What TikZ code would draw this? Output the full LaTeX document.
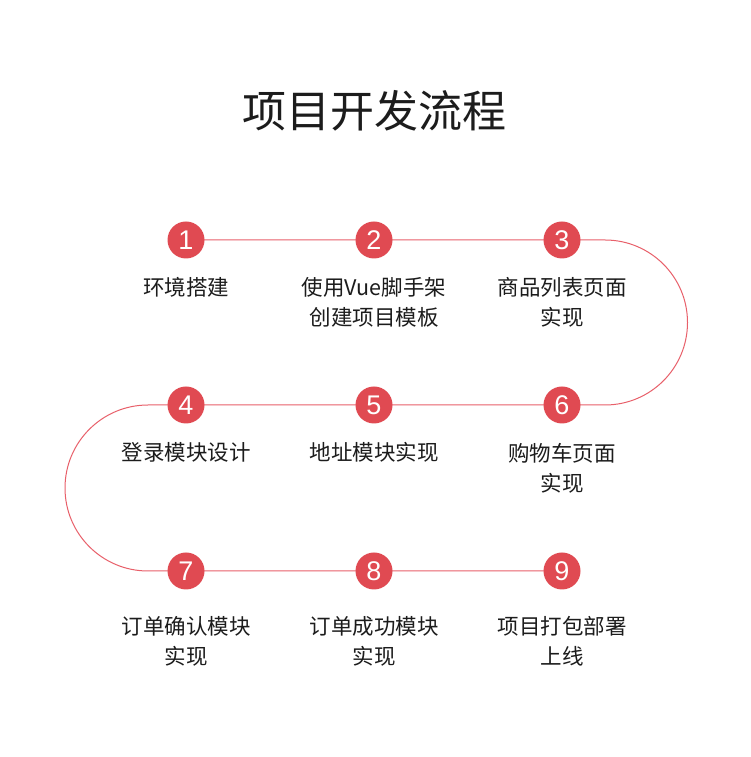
\documentclass[tikz,border=0pt]{standalone}
\usepackage{fontspec}
\setmainfont{Noto Sans CJK SC}
\newfontfamily\digitfont{Liberation Sans}
\definecolor{stepred}{HTML}{E04A52}
\definecolor{linered}{HTML}{E8606A}
\definecolor{txt}{HTML}{1C1C1C}
\begin{document}
\begin{tikzpicture}[x=1pt,y=1pt,
  stepnum/.style={circle,fill=stepred,minimum size=37pt,inner sep=0pt,text=white,font=\digitfont\fontsize{27}{27}\selectfont},
  steplabel/.style={text=txt,align=center,inner sep=0pt,font=\fontsize{21.5}{30}\selectfont},
  flow/.style={draw=linered,line width=1pt}]
\useasboundingbox[fill=white] (0,0) rectangle (750,757);
\node[text=txt,font=\fontsize{44}{44}\selectfont,inner sep=0pt] (title) at (374,646) {项目开发流程};
% path coordinates
\coordinate (r1) at (605,517);
\coordinate (r2) at (605,352);
\coordinate (l1) at (148,352);
\coordinate (l2) at (148,186);
% nodes positions
\coordinate (p1) at (186,517);
\coordinate (p2) at (374,517);
\coordinate (p3) at (562,517);
\coordinate (p4) at (186,352);
\coordinate (p5) at (374,352);
\coordinate (p6) at (562,352);
\coordinate (p7) at (186,186);
\coordinate (p8) at (374,186);
\coordinate (p9) at (562,186);
\draw[flow] (p1) -- (p3) -- (r1) arc[start angle=90,end angle=-90,radius=82.5] -- (p6) -- (p4) -- (l1) arc[start angle=90,end angle=270,radius=83] -- (p7) -- (p9);
\foreach \i in {1,...,9} {\node[stepnum] (n\i) at (p\i) {\i};}
\node[steplabel] (t1) at (186,470) {环境搭建};
\node[steplabel] (t2) at (374,455) {使用Vue脚手架\\创建项目模板};
\node[steplabel] (t3) at (562,455) {商品列表页面\\实现};
\node[steplabel] (t4) at (186,305) {登录模块设计};
\node[steplabel] (t5) at (374,305) {地址模块实现};
\node[steplabel] (t6) at (562,289) {购物车页面\\实现};
\node[steplabel] (t7) at (186,116) {订单确认模块\\实现};
\node[steplabel] (t8) at (374,116) {订单成功模块\\实现};
\node[steplabel] (t9) at (562,116) {项目打包部署\\上线};
\end{tikzpicture}
\end{document}
